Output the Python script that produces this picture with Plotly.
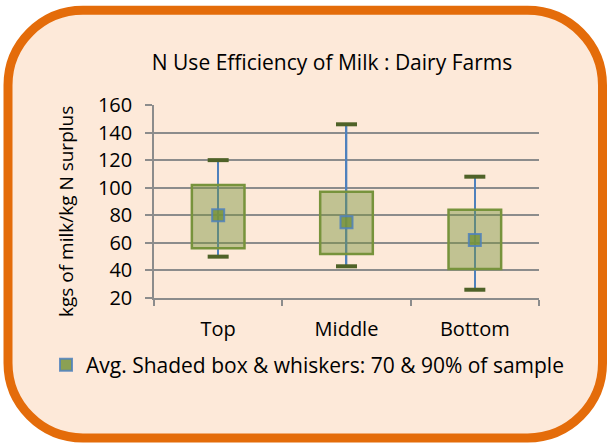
import plotly.graph_objects as go

# ---- data ----
categories = ["Top", "Middle", "Bottom"]
avg_values = [80, 75, 62]
box_low = [56, 52, 41]
box_high = [102, 97, 84]
whisker_low = [50, 43, 26]
whisker_high = [120, 146, 108]
y_ticks = [20, 40, 60, 80, 100, 120, 140, 160]

title_text = "N Use Efficiency of Milk : Dairy Farms"
y_title = "kgs of milk/kg N surplus"
legend_name = "Avg. Shaded box & whiskers: 70 & 90% of sample"

# ---- styling ----
W, H = 608, 443
ML, MR, MT, MB = 154, 69, 105, 145
PW, PH = W - ML - MR, H - MT - MB
FONT = "Open Sans"
GRID = "#8c8c8c"
ORANGE = "#E46C0A"
PEACH = "#FDE9D9"


def px(x):
    return (x - ML) / PW


def py(y):
    return (H - MB - y) / PH


fig = go.Figure()

# whisker lines (thin bars, drawn under the translucent boxes)
fig.add_trace(go.Bar(
    x=categories,
    base=whisker_low,
    y=[h - l for h, l in zip(whisker_high, whisker_low)],
    width=0.013,
    marker=dict(color="#4F81BD", line=dict(width=0)),
    showlegend=False, hoverinfo="skip",
))

# shaded boxes
fig.add_trace(go.Bar(
    x=categories,
    base=box_low,
    y=[h - l for h, l in zip(box_high, box_low)],
    width=0.41,
    marker=dict(color="rgba(119,147,60,0.45)", line=dict(color="#77933C", width=2.5)),
    showlegend=False, hoverinfo="skip",
))

# whisker caps
fig.add_trace(go.Scatter(
    x=categories + categories,
    y=whisker_high + whisker_low,
    mode="markers",
    marker=dict(symbol="line-ew", size=15, line=dict(color="#4F6228", width=4)),
    showlegend=False, hoverinfo="skip",
))

# averages
fig.add_trace(go.Scatter(
    x=categories,
    y=avg_values,
    mode="markers",
    name=legend_name,
    marker=dict(symbol="square", size=12, color="rgba(119,147,60,0.85)",
                line=dict(color="rgba(79,129,189,0.85)", width=2)),
))

# rounded orange frame
xl, xr, yt, yb, r = 8, 602.5, 10.3, 438, 75
k = 0.5523 * r
path = (
    f"M {px(xl + r)},{py(yt)} L {px(xr - r)},{py(yt)} "
    f"C {px(xr - r + k)},{py(yt)} {px(xr)},{py(yt + r - k)} {px(xr)},{py(yt + r)} "
    f"L {px(xr)},{py(yb - r)} "
    f"C {px(xr)},{py(yb - r + k)} {px(xr - r + k)},{py(yb)} {px(xr - r)},{py(yb)} "
    f"L {px(xl + r)},{py(yb)} "
    f"C {px(xl + r - k)},{py(yb)} {px(xl)},{py(yb - r + k)} {px(xl)},{py(yb - r)} "
    f"L {px(xl)},{py(yt + r)} "
    f"C {px(xl)},{py(yt + r - k)} {px(xl + r - k)},{py(yt)} {px(xl + r)},{py(yt)} Z"
)
fig.add_shape(type="path", path=path, xref="paper", yref="paper",
              line=dict(color=ORANGE, width=9), fillcolor=PEACH, layer="below")

fig.add_annotation(
    text=y_title, textangle=-90, xref="paper", yref="paper",
    x=px(66), y=py(212), xanchor="center", yanchor="middle", showarrow=False,
    font=dict(family=FONT, size=19, color="#000000"),
)

fig.update_layout(
    width=W, height=H,
    margin=dict(l=ML, r=MR, t=MT, b=MB, pad=0),
    paper_bgcolor="white",
    plot_bgcolor="rgba(0,0,0,0)",
    barmode="overlay",
    font=dict(family=FONT, size=20, color="#000000"),
    title=dict(text=title_text, x=332 / W, xanchor="center", y=1 - 63 / H,
               yanchor="middle", xref="container", yref="container",
               font=dict(family=FONT, size=21, color="#000000")),
    showlegend=True,
    legend=dict(orientation="h", x=px(46), y=py(365), xanchor="left", yanchor="middle",
                bgcolor="rgba(0,0,0,0)", font=dict(family=FONT, size=21)),
    xaxis=dict(type="category", showline=True, linecolor=GRID, linewidth=1.5,
               ticks="outside", tickson="boundaries", ticklen=6, tickwidth=1.5,
               tickcolor=GRID, showgrid=False, ticklabelstandoff=12),
    yaxis=dict(range=[20, 160], tickvals=y_ticks, showgrid=True, gridcolor=GRID,
               gridwidth=1.5, showline=True, linecolor=GRID, linewidth=1.5,
               ticks="outside", ticklen=7, tickwidth=1.5, tickcolor=GRID,
               zeroline=False, ticklabelstandoff=9),
)

fig.write_html("out.html", config={"displayModeBar": False},
               post_script="document.body.style.margin='0';")
